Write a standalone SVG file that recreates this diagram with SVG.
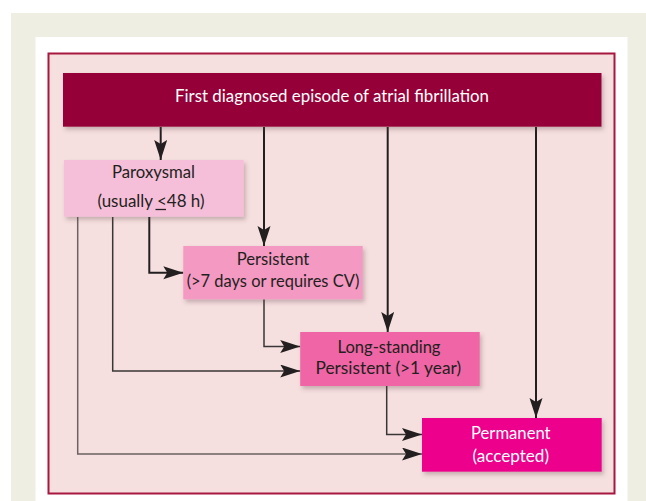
<svg xmlns="http://www.w3.org/2000/svg" width="646" height="501" viewBox="0 0 646 501">
<style>
.t{font-family:Lato,"Liberation Sans",sans-serif;font-size:17.5px;fill:#231f20;text-anchor:middle}
.w{fill:#ffffff}
.c{fill:none;stroke-linejoin:miter}
.k{stroke:#231f20;stroke-width:2}
.g{stroke:#3a3536;stroke-width:1.5}
.g2{stroke:#6b6262;stroke-width:1.5}
</style>
<defs>
<filter id="sh" x="-10%" y="-10%" width="130%" height="140%">
<feDropShadow dx="2" dy="3" stdDeviation="2" flood-color="#5a3a40" flood-opacity="0.3"/>
</filter>
<marker id="ah" markerUnits="userSpaceOnUse" markerWidth="22" markerHeight="14" refX="20" refY="6.5" orient="auto" viewBox="0 0 22 14">
<path d="M0,0 L20,6.5 L0,13 L4,6.5 Z" fill="#231f20"/>
</marker>
</defs>
<rect x="0" y="0" width="646" height="501" fill="#ffffff"/>
<rect x="11" y="13" width="635" height="488" fill="#efeee3"/>
<rect x="35.5" y="37" width="592" height="464" fill="#ffffff"/>
<rect x="48.5" y="53.5" width="566" height="440" fill="#f5e0df" stroke="#a8173f" stroke-width="2"/>

<g id="connectors">
<path class="c k" d="M160.7,127 V160" marker-end="url(#ah)"/>
<path class="c k" d="M264,127 V246" marker-end="url(#ah)"/>
<path class="c k" d="M387.7,127 V332" marker-end="url(#ah)"/>
<path class="c k" d="M536,127 V418" marker-end="url(#ah)"/>
<path class="c k" d="M149.3,217 V272.7 H183.3" marker-end="url(#ah)"/>
<path class="c g" d="M112.7,217 V371 H300.2" marker-end="url(#ah)"/>
<path class="c g2" d="M77.7,217 V454 H422" marker-end="url(#ah)"/>
<path class="c g" d="M264,299.3 V346.5 H300.2" marker-end="url(#ah)"/>
<path class="c g" d="M386.7,386 V434.5 H422" marker-end="url(#ah)"/>
</g>

<g id="first">
<rect x="63" y="73" width="538.5" height="53.7" fill="#960039" filter="url(#sh)"/>
<text class="t w" x="332" y="102" font-size="18" textLength="314" lengthAdjust="spacingAndGlyphs">First diagnosed episode of atrial fibrillation</text>
</g>

<g id="paroxysmal">
<rect x="64" y="160" width="179.7" height="56.7" fill="#f6bfd9" filter="url(#sh)"/>
<text class="t" x="153.5" y="178" textLength="83" lengthAdjust="spacingAndGlyphs">Paroxysmal</text>
<text class="t" x="151" y="206.5" textLength="107" lengthAdjust="spacingAndGlyphs">(usually &lt;48 h)</text>
<line x1="155.5" y1="209.5" x2="166" y2="209.5" stroke="#231f20" stroke-width="1.3"/>
</g>

<g id="persistent">
<rect x="183.3" y="246" width="179.4" height="53.3" fill="#f399c2" filter="url(#sh)"/>
<text class="t" x="273" y="265" textLength="72.6" lengthAdjust="spacingAndGlyphs">Persistent</text>
<text class="t" x="273" y="286.7" textLength="172.6" lengthAdjust="spacingAndGlyphs">(&gt;7 days or requires CV)</text>
</g>

<g id="longstanding">
<rect x="300.2" y="332" width="179.5" height="54" fill="#ef65a5" filter="url(#sh)"/>
<text class="t" x="389" y="353.3" textLength="103" lengthAdjust="spacingAndGlyphs">Long-standing</text>
<text class="t" x="388.3" y="374" textLength="145.5" lengthAdjust="spacingAndGlyphs">Persistent (&gt;1 year)</text>
</g>

<g id="permanent">
<rect x="422" y="418" width="179.7" height="53.7" fill="#ec008c" filter="url(#sh)"/>
<text class="t w" x="510.8" y="439.3" textLength="79.5" lengthAdjust="spacingAndGlyphs">Permanent</text>
<text class="t w" x="510.7" y="461.7" textLength="76.6" lengthAdjust="spacingAndGlyphs">(accepted)</text>
</g>
</svg>
